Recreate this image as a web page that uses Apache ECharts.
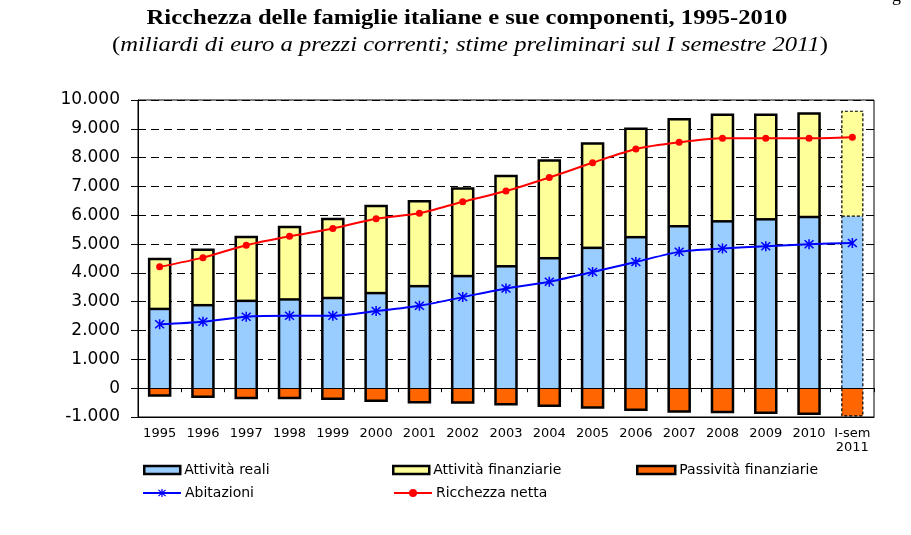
<!DOCTYPE html>
<html>
<head>
<meta charset="utf-8">
<script src="https://cdn.jsdelivr.net/npm/echarts@6/dist/echarts.min.js"></script>
<style>html,body{margin:0;padding:0;background:#fff}#c{width:911px;height:535px}</style>
</head>
<body>
<div id="c"></div>
<script>
var categories = ['1995','1996','1997','1998','1999','2000','2001','2002','2003','2004','2005','2006','2007','2008','2009','2010','I-sem\n2011'];
var attivitaReali = [2750, 2880, 3030, 3080, 3130, 3300, 3540, 3890, 4230, 4510, 4870, 5240, 5620, 5790, 5860, 5940, 5970];
var attivitaFinanziarie = [1730, 1920, 2220, 2510, 2740, 3020, 2950, 3040, 3130, 3390, 3620, 3760, 3710, 3700, 3630, 3590, 3640];
var passivitaFinanziarie = [-250, -300, -345, -345, -370, -440, -485, -500, -555, -610, -670, -750, -810, -830, -855, -890, -960];
var abitazioni = [2215, 2305, 2480, 2510, 2510, 2675, 2860, 3160, 3460, 3690, 4035, 4380, 4730, 4845, 4925, 4995, 5040];
var ricchezzaNetta = [4210, 4530, 4960, 5270, 5540, 5880, 6070, 6470, 6840, 7310, 7820, 8300, 8530, 8670, 8670, 8670, 8710];
var yTicks = {min: -1000, max: 10000, interval: 1000};

var FONT = 'DejaVu Sans';
var BAR_W = 21;
function fmt(v){ var s = Math.abs(v).toString().replace(/\B(?=(\d{3})+(?!\d))/g, '.'); return (v < 0 ? '-' : '') + s; }
var asterisk = 'path://M-0.7,-5 L0.7,-5 L0.7,5 L-0.7,5 Z M-4.5,-3.5 L-3.5,-4.5 L4.5,3.5 L3.5,4.5 Z M3.5,-4.5 L4.5,-3.5 L-3.5,4.5 L-4.5,3.5 Z';

// outline data built from the arrays: [categoryIndex, reali, finanziarie, passivita]
var outlineData = categories.map(function(c, i){ return [i, attivitaReali[i], attivitaFinanziarie[i], passivitaFinanziarie[i]]; });

function renderOutline(params, api){
  var i = api.value(0);
  var reali = api.value(1), fin = api.value(2), pas = api.value(3);
  var p0 = api.coord([i, 0]);
  var pR = api.coord([i, reali]);
  var pT = api.coord([i, reali + fin]);
  var pN = api.coord([i, pas]);
  var xl = p0[0] - BAR_W / 2, xr = p0[0] + BAR_W / 2;
  var last = params.dataIndex === categories.length - 1;
  var st = last ? {stroke: '#000', lineWidth: 1.2, lineDash: [3, 2], fill: null}
                : {stroke: '#000', lineWidth: 2.5, fill: null, lineJoin: 'miter'};
  return {type: 'group', children: [
    {type: 'polyline', shape: {points: [[xl, p0[1]], [xl, pT[1]], [xr, pT[1]], [xr, p0[1]]]}, style: st},
    {type: 'line', shape: {x1: xl, y1: pR[1], x2: xr, y2: pR[1]}, style: st},
    {type: 'polyline', shape: {points: [[xl, p0[1]], [xl, pN[1]], [xr, pN[1]], [xr, p0[1]]]}, style: st}
  ]};
}

var chart = echarts.init(document.getElementById('c'), null, {renderer: 'canvas'});
function legendAt(name, left, top, w, h, icon){
  var item = {name: name};
  if (icon) { item.icon = icon; item.itemStyle = {borderColor: '#000', borderWidth: 2.5}; }
  return {data: [item], left: left, top: top, itemWidth: w, itemHeight: h, padding: 0,
    textStyle: {fontFamily: FONT, fontSize: 14, color: '#000', padding: [0, 0, 0, -1]}, selectedMode: false};
}
var option = {
  animation: false,
  backgroundColor: '#fff',
  graphic: [
    {type: 'text', x: 467, y: 19, scaleX: 1.23, z: 10,
      style: {text: 'Ricchezza delle famiglie italiane e sue componenti, 1995-2010', x: 0, y: 0,
        align: 'center', verticalAlign: 'middle', textAlign: 'center', textVerticalAlign: 'middle',
        font: 'bold 20px "Liberation Serif"', fill: '#000'}},
    {type: 'text', x: 470, y: 45, scaleX: 1.12, z: 10,
      style: {text: '{r|(}{i|miliardi di euro a prezzi correnti; stime preliminari sul I semestre 2011}{r|)}', x: 0, y: 0,
        align: 'center', verticalAlign: 'middle', textAlign: 'center', textVerticalAlign: 'middle',
        rich: {
          r: {fontFamily: 'Liberation Serif', fontWeight: 'normal', fontSize: 22, fill: '#000', color: '#000'},
          i: {fontFamily: 'Liberation Serif', fontWeight: 'normal', fontStyle: 'italic', fontSize: 22, fill: '#000', color: '#000'}
        }}},
    {type: 'text', left: 892, top: -13, style: {text: 'g', font: '18px "Liberation Serif"', fill: '#000'}}
  ],
  legend: [
    legendAt('Attività reali', 143, 463, 36, 8, 'rect'),
    legendAt('Attività finanziarie', 392, 463, 36, 8, 'rect'),
    legendAt('Passività finanziarie', 636, 463, 38, 8, 'rect'),
    legendAt('Abitazioni', 142, 486, 38, 10),
    legendAt('Ricchezza netta', 393, 486, 38, 10)
  ],
  grid: {left: 138, right: 37, top: 100, bottom: 118, show: true, borderColor: '#000', borderWidth: 1, backgroundColor: 'transparent'},
  xAxis: [
    {type: 'category', data: categories, position: 'bottom',
      axisLine: {onZero: false, show: true, lineStyle: {color: '#000', width: 1}},
      axisTick: {show: false},
      axisLabel: {fontFamily: FONT, fontSize: 13, color: '#000', margin: 10, interval: 0, lineHeight: 14}},
    {type: 'category', data: categories, position: 'bottom', z: 4,
      axisLine: {onZero: true, show: true, lineStyle: {color: '#000', width: 1}},
      axisTick: {show: true, length: 4, lineStyle: {color: '#000'}},
      axisLabel: {show: false}}
  ],
  yAxis: {type: 'value', min: yTicks.min, max: yTicks.max, interval: yTicks.interval,
    axisLine: {show: true, onZero: false, lineStyle: {color: '#000'}},
    axisTick: {show: true, length: 7, lineStyle: {color: '#000'}},
    axisLabel: {fontFamily: FONT, fontSize: 17, color: '#000', margin: 18, formatter: fmt},
    splitLine: {show: true, lineStyle: {color: '#000', type: [8, 5], width: 1}}
  },
  series: [
    {name: 'Attività reali', type: 'bar', stack: 'w', barWidth: BAR_W, data: attivitaReali,
      itemStyle: {color: '#99CCFF', borderWidth: 0}},
    {name: 'Attività finanziarie', type: 'bar', stack: 'w', barWidth: BAR_W, data: attivitaFinanziarie,
      itemStyle: {color: '#FFFF99', borderWidth: 0}},
    {name: 'Passività finanziarie', type: 'bar', stack: 'w', barWidth: BAR_W, data: passivitaFinanziarie,
      itemStyle: {color: '#FF6600', borderWidth: 0}},
    {type: 'custom', name: 'outline', data: outlineData, renderItem: renderOutline, z: 3, silent: true,
      encode: {x: 0, y: [1, 2, 3]}, clip: false},
    {name: 'Abitazioni', type: 'line', data: abitazioni, smooth: 0.25, z: 5,
      symbol: asterisk, symbolSize: 10, lineStyle: {color: '#0000FF', width: 2},
      itemStyle: {color: '#0000FF'}},
    {name: 'Ricchezza netta', type: 'line', data: ricchezzaNetta, smooth: 0.25, z: 5,
      symbol: 'circle', symbolSize: 7, lineStyle: {color: '#FF0000', width: 2},
      itemStyle: {color: '#FF0000'}}
  ]
};
chart.setOption(option);
</script>
</body>
</html>
